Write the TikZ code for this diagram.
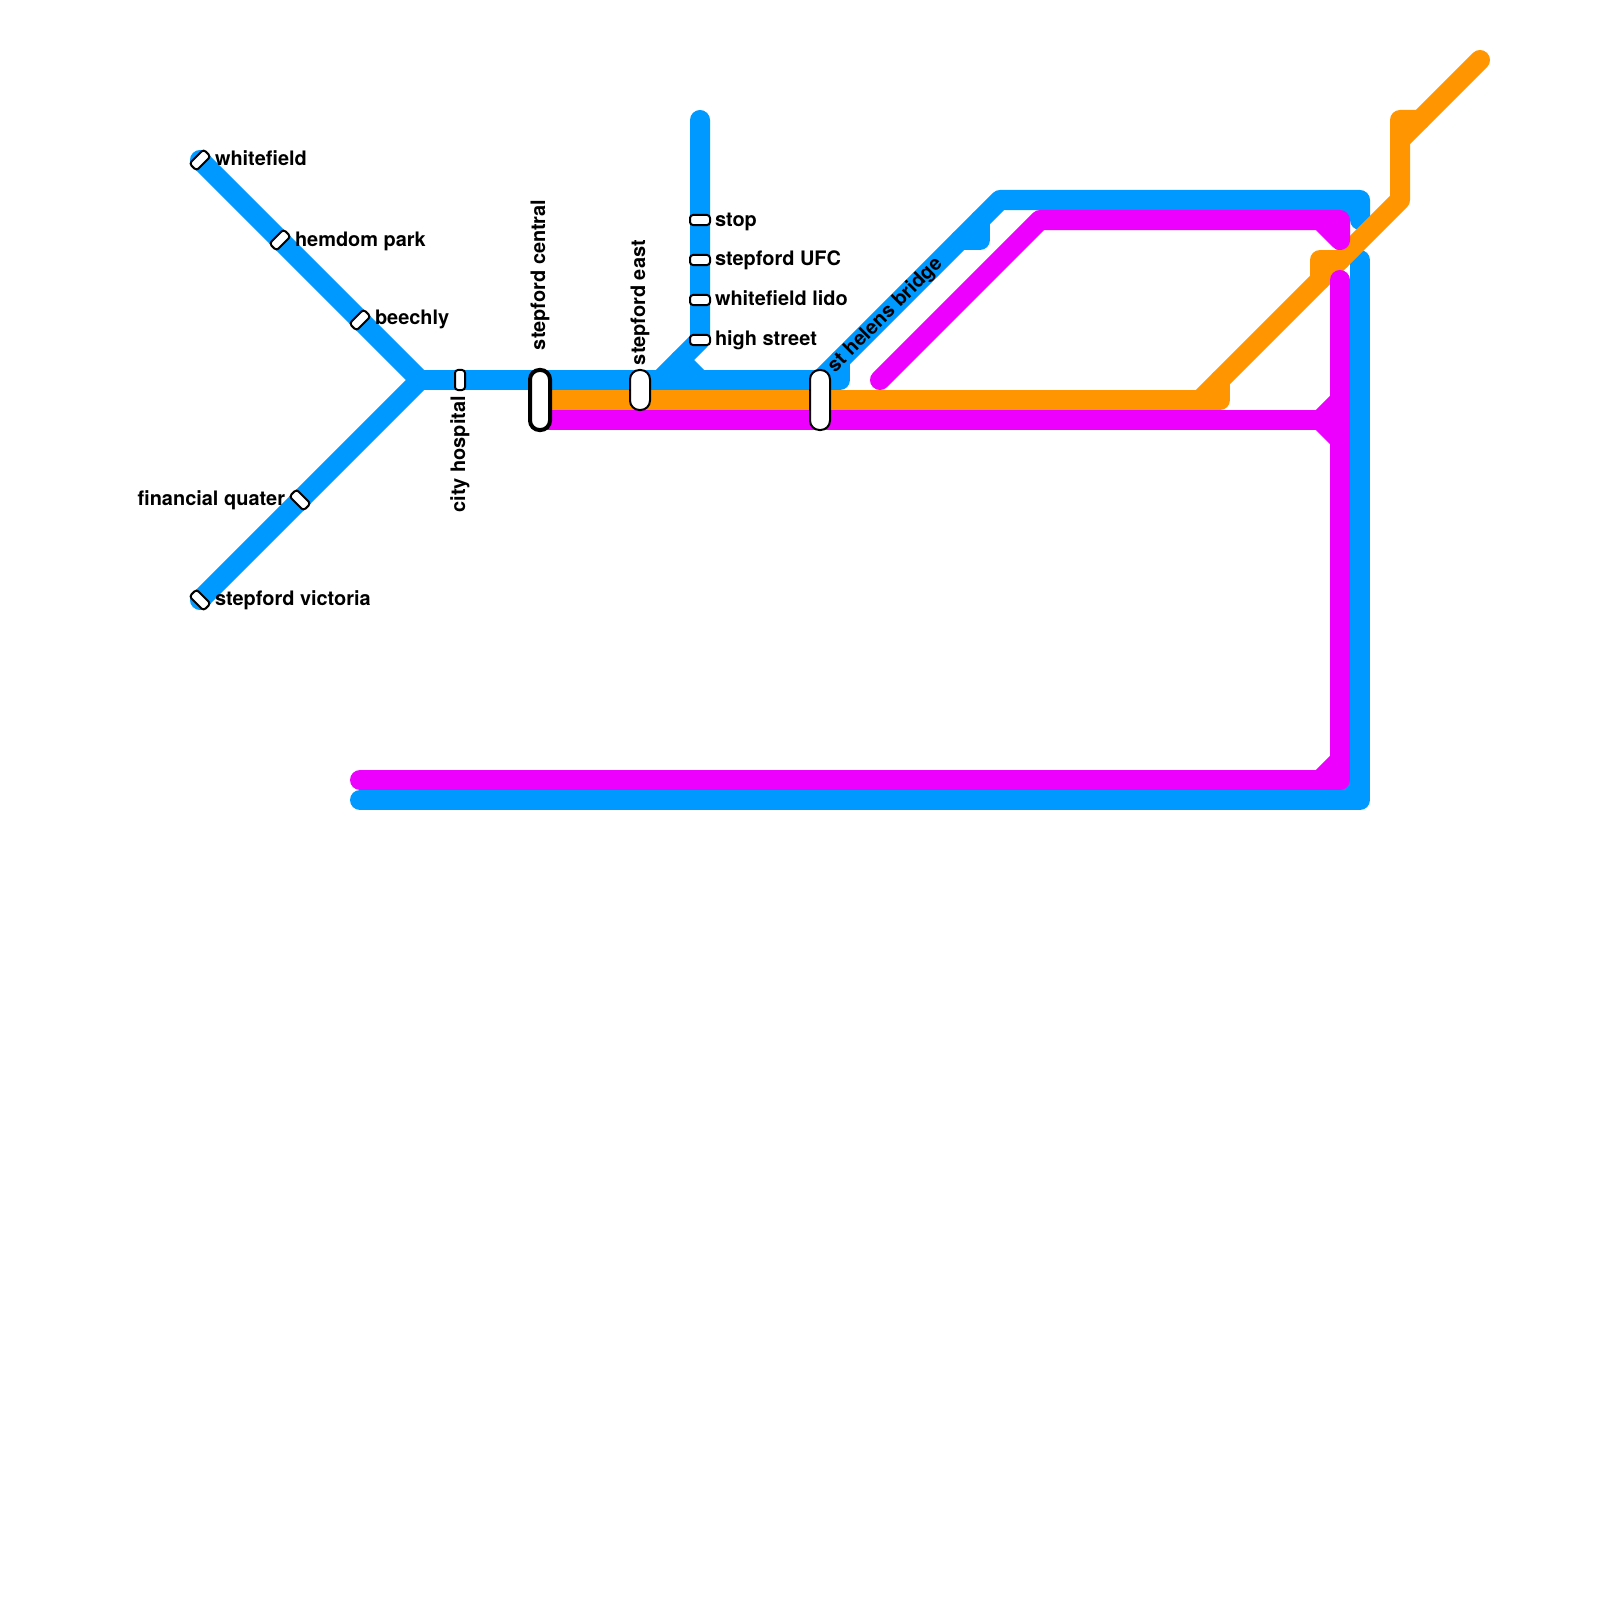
\documentclass[tikz,border=0pt]{standalone}
\usepackage{fontspec}
\setmainfont{TeX Gyre Heros}
\definecolor{lineblue}{RGB}{0,153,255}
\definecolor{lineorange}{RGB}{255,149,0}
\definecolor{linemagenta}{RGB}{238,0,255}
\tikzset{
  every picture/.style={x=0.01cm,y=-0.01cm},
  bluel/.style={draw=lineblue,line width=0.2cm,line cap=round,line join=round},
  orangel/.style={draw=lineorange,line width=0.2cm,line cap=round,line join=round},
  magental/.style={draw=linemagenta,line width=0.2cm,line cap=round,line join=round},
  stn/.style={draw=black,fill=white,line width=0.02cm,inner sep=0pt,outer sep=0pt,rectangle},
  smallstn/.style={stn,minimum width=0.2cm,minimum height=0.1cm,rounded corners=0.03cm},
  bigstn/.style={stn,minimum width=0.2cm,rounded corners=0.095cm},
  lab/.style={inner sep=0pt,outer sep=0pt,text=black,font=\fontsize{5.67pt}{7pt}\selectfont\bfseries}
}
\begin{document}
\begin{tikzpicture}
\useasboundingbox (0,0) rectangle (1600,1600);
% station positions
\coordinate (pw) at (200,160);
\coordinate (ph) at (280,240);
\coordinate (pb) at (360,320);
\coordinate (pf) at (300,500);
\coordinate (pv) at (200,600);
\coordinate (pj) at (420,380);
\coordinate (pc) at (460,380);
\coordinate (ps) at (540,400);
\coordinate (pe) at (640,390);
\coordinate (pst) at (700,220);
\coordinate (pu) at (700,260);
\coordinate (pl) at (700,300);
\coordinate (pm) at (700,340);
\coordinate (pbr) at (820,400);
% blue
\draw[bluel] (pw) -- (pj) -- (pv);
\draw[bluel] (pj) -- (840,380) -- (840,360);
\draw[bluel] (820,380) -- (1000,200) -- (1360,200) -- (1360,220);
\draw[bluel] (960,240) -- (980,240) -- (980,220);
\draw[bluel] (1360,260) -- (1360,800) -- (360,800);
\draw[bluel] (700,120) -- (pm) -- (660,380);
\draw[bluel] (680,360) -- (700,380);
\fill[lineblue] (1340,200) rectangle (1360,220);
\fill[lineblue] (1340,780) rectangle (1360,800);
% orange
\draw[orangel] (ps) -- (1220,400) -- (1220,380);
\draw[orangel] (1200,400) -- (1400,200) -- (1400,120) -- (1420,120);
\draw[orangel] (1400,140) -- (1480,60);
\draw[orangel] (1340,260) -- (1320,260) -- (1320,280);
% magenta
\draw[magental] (540,420) -- (1340,420);
\draw[magental] (1340,400) -- (1320,420) -- (1340,440);
\draw[magental] (880,380) -- (1040,220) -- (1340,220) -- (1340,240) -- (1320,220);
\draw[magental] (1340,280) -- (1340,780) -- (360,780);
\draw[magental] (1320,780) -- (1340,760);
% stations
\node[smallstn,rotate=45] (whitefield) at (pw) {};
\node[smallstn,rotate=45] (hemdom) at (ph) {};
\node[smallstn,rotate=45] (beechly) at (pb) {};
\node[smallstn,rotate=-45] (financial) at (pf) {};
\node[smallstn,rotate=-45] (victoria) at (pv) {};
\node[smallstn,minimum width=0.1cm,minimum height=0.2cm] (hospital) at (pc) {};
\node[bigstn,minimum height=0.6cm,line width=0.04cm] (central) at (ps) {};
\node[bigstn,minimum height=0.4cm] (east) at (pe) {};
\node[smallstn] (stop) at (pst) {};
\node[smallstn] (ufc) at (pu) {};
\node[smallstn] (lido) at (pl) {};
\node[smallstn] (high) at (pm) {};
\node[bigstn,minimum height=0.6cm] (helens) at (pbr) {};
% labels
\node[lab,anchor=base west] (lw) at (215,166) {whitefield};
\node[lab,anchor=base west] (lh) at (295,246) {hemdom park};
\node[lab,anchor=base west] (lb) at (375,324) {beechly};
\node[lab,anchor=base east] (lf) at (285,505) {financial quater};
\node[lab,anchor=base west] (lv) at (215,605) {stepford victoria};
\node[lab,anchor=base west] (ls) at (715,226) {stop};
\node[lab,anchor=base west] (lu) at (715,265) {stepford UFC};
\node[lab,anchor=base west] (ll) at (715,305) {whitefield lido};
\node[lab,anchor=base west] (lm) at (715,345) {high street};
\node[lab,anchor=base east,rotate=90] (lc) at (465,396) {city hospital};
\node[lab,anchor=base west,rotate=90] (lsc) at (545,350) {stepford central};
\node[lab,anchor=base west,rotate=90] (le) at (645,365) {stepford east};
\node[lab,anchor=base west,rotate=45] (lbr) at (835,373) {st helens bridge};
\end{tikzpicture}
\end{document}
